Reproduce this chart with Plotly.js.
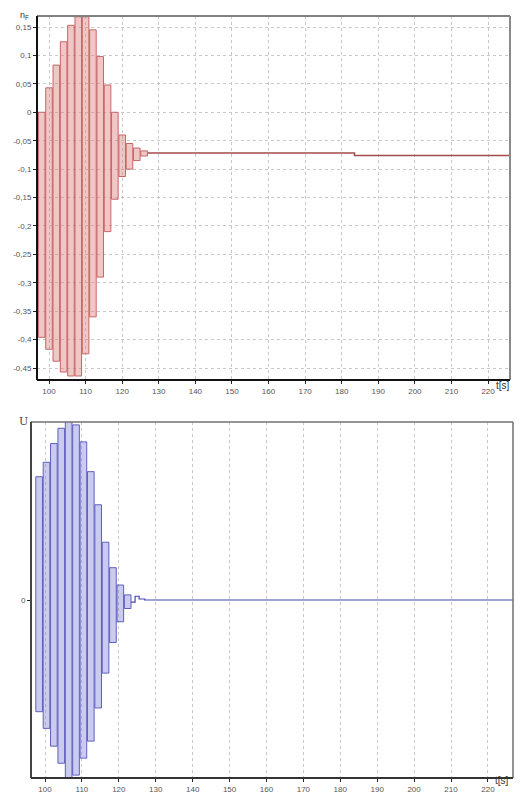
<!DOCTYPE html>
<html><head><meta charset="utf-8">
<script src="https://cdn.plot.ly/plotly-3.0.1.min.js"></script>
<style>html,body{margin:0;padding:0;background:#fff}#chart{width:527px;height:798px}</style>
</head><body><div id="chart"></div>
<script>
// ---- top chart (n_F) : oscillation columns, one per 2-s cycle ----
const topCenters = [98,100,102,104,106,108,110,112,114,116,118,120,122,124,126];
const topHigh = [0.0,0.043,0.083,0.124,0.153,0.168,0.168,0.145,0.098,0.048,0.0,-0.04,-0.055,-0.063,-0.068];
const topLow  = [-0.396,-0.417,-0.438,-0.457,-0.464,-0.464,-0.425,-0.36,-0.29,-0.21,-0.153,-0.113,-0.10,-0.085,-0.077];
const topTailT = [127.0,183.5,226.0];
const topTailN = [-0.0715,-0.076,-0.076];
const topYTicks = [0.15,0.1,0.05,0,-0.05,-0.1,-0.15,-0.2,-0.25,-0.3,-0.35,-0.4,-0.45];
const topYLabels = ['0,15','0,1','0,05','0','-0,05','-0,1','-0,15','-0,2','-0,25','-0,3','-0,35','-0,4','-0,45'];

// ---- bottom chart (U) ----
const botCenters = [98.4,100.4,102.4,104.4,106.4,108.4,110.4,112.4,114.4,116.4,118.4,120.4,122.4];
const botHigh = [0.725,0.81,0.92,1.01,1.06,1.03,0.93,0.755,0.56,0.34,0.19,0.088,0.03];
const botLow  = [-0.657,-0.755,-0.86,-0.96,-1.06,-1.03,-0.93,-0.83,-0.635,-0.43,-0.25,-0.128,-0.05];
const botTailT = [123.3,124.4,125.5,127.0,226.8];
const botTailU = [-0.012,0.022,0.006,0,0];

const xTicks = [100,110,120,130,140,150,160,170,180,190,200,210,220];
const xTickLabels = ['100','110','120','130','140','150','160','170','180','190','200','210','220'];

const tickFont = {family:'Liberation Sans, Arial, sans-serif', size:8, color:'#555'};

const traces = [
  {type:'bar', x:topCenters, base:topLow, y:topHigh.map((h,i)=>h-topLow[i]), width:1.8,
   xaxis:'x', yaxis:'y',
   marker:{color:'rgba(222,130,130,0.45)', line:{color:'rgb(200,100,100)', width:1}}, hoverinfo:'skip'},
  {type:'scatter', mode:'lines', x:topTailT, y:topTailN, xaxis:'x', yaxis:'y',
   line:{shape:'hv', color:'rgb(165,75,75)', width:1.5}, hoverinfo:'skip'},
  {type:'bar', x:botCenters, base:botLow, y:botHigh.map((h,i)=>h-botLow[i]), width:1.8,
   xaxis:'x2', yaxis:'y2',
   marker:{color:'rgba(130,130,220,0.42)', line:{color:'rgb(95,95,190)', width:1}}, hoverinfo:'skip'},
  {type:'scatter', mode:'lines', x:botTailT, y:botTailU, xaxis:'x2', yaxis:'y2',
   line:{shape:'hv', color:'rgb(70,70,170)', width:1.2}, hoverinfo:'skip'}
];

const gridBase = {showgrid:true, gridcolor:'#c8c8c8', griddash:'3px,3px', gridwidth:1, zeroline:false,
  showline:false, ticks:'outside', ticklen:3, tickcolor:'#222', tickfont:tickFont, fixedrange:true};

const layout = {
  width:527, height:798, margin:{l:0,r:0,t:0,b:0},
  paper_bgcolor:'#fff', plot_bgcolor:'#fff', showlegend:false, barmode:'overlay',
  xaxis:Object.assign({}, gridBase, {domain:[37/527,510/527], range:[96.72,226.0], anchor:'y',
    tickmode:'array', tickvals:xTicks, ticktext:xTickLabels}),
  yaxis:Object.assign({}, gridBase, {domain:[1-380/798,1-16/798], range:[-0.4711,0.1694], anchor:'x',
    tickmode:'array', tickvals:topYTicks, ticktext:topYLabels}),
  xaxis2:Object.assign({}, gridBase, {domain:[31/527,513/527], range:[96.2,226.8], anchor:'y2',
    tickmode:'array', tickvals:xTicks, ticktext:xTickLabels}),
  yaxis2:Object.assign({}, gridBase, {domain:[1-778/798,1-422/798], range:[-1.047,1.047], anchor:'x2',
    tickmode:'array', tickvals:[0], ticktext:['0'], showgrid:false}),
  shapes:[
    // top frame
    {type:'line', xref:'x domain', yref:'y domain', x0:0, x1:1, y0:1, y1:1, line:{color:'#808080', width:2}, layer:'above'},
    {type:'line', xref:'x domain', yref:'y domain', x0:1, x1:1, y0:0, y1:1, line:{color:'#8a8a8a', width:2}, layer:'above'},
    {type:'line', xref:'x domain', yref:'y domain', x0:0, x1:0, y0:0, y1:1, line:{color:'#111', width:2}, layer:'above'},
    {type:'line', xref:'x domain', yref:'y domain', x0:0, x1:1, y0:0, y1:0, line:{color:'#111', width:2}, layer:'above'},
    // bottom frame
    {type:'line', xref:'x2 domain', yref:'y2 domain', x0:0, x1:1, y0:1, y1:1, line:{color:'#707070', width:1.5}, layer:'above'},
    {type:'line', xref:'x2 domain', yref:'y2 domain', x0:1, x1:1, y0:0, y1:1, line:{color:'#707070', width:1.5}, layer:'above'},
    {type:'line', xref:'x2 domain', yref:'y2 domain', x0:0, x1:0, y0:0, y1:1, line:{color:'#444', width:2}, layer:'above'},
    {type:'line', xref:'x2 domain', yref:'y2 domain', x0:0, x1:1, y0:0, y1:0, line:{color:'#333', width:2}, layer:'above'}
  ],
  annotations:[
    {xref:'paper', yref:'paper', x:512/527, y:1-386/798, text:'t[s]', showarrow:false,
     font:{family:'Liberation Sans, Arial, sans-serif', size:10, color:'#333'}},
    {xref:'paper', yref:'paper', x:511/527, y:1-788/798, text:'t[s]', showarrow:false,
     font:{family:'Liberation Sans, Arial, sans-serif', size:10, color:'#333'}},
    {xref:'paper', yref:'paper', x:18/527, y:1-8/798, text:'n<sub>F</sub>', showarrow:false,
     font:{family:'Liberation Sans, Arial, sans-serif', size:9, color:'#333'}},
    {xref:'paper', yref:'paper', x:17/527, y:1-421/798, text:'U', showarrow:false,
     font:{family:'DejaVu Serif, serif', size:11, color:'#444'}}
  ]
};

Plotly.newPlot('chart', traces, layout, {staticPlot:true, displayModeBar:false});
</script>
</body></html>
